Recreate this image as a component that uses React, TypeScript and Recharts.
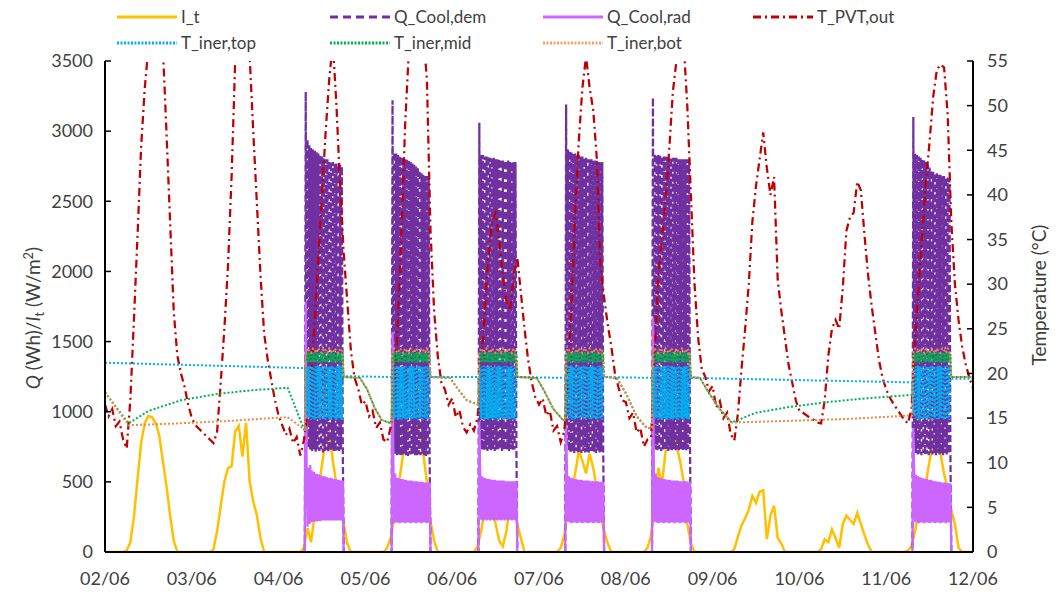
import { ComposedChart, Line, XAxis, YAxis } from "recharts"

const W = 1058
const H = 594
const PLOT_LEFT = 105
const PLOT_RIGHT = 973
const FONT = "Lato, 'Liberation Sans', sans-serif"
const TEXT = "#404040"

const DAY_LABELS = ["02/06", "03/06", "04/06", "05/06", "06/06", "07/06", "08/06", "09/06", "10/06", "11/06", "12/06"]
const DAY_TICKS = [0, 24, 48, 72, 96, 120, 144, 168, 192, 216, 240]
const Q_TICKS = [0, 500, 1000, 1500, 2000, 2500, 3000, 3500]
const T_TICKS = [0, 5, 10, 15, 20, 25, 30, 35, 40, 45, 50, 55]

// I_t, hourly, one array per day (W/m2)
const irr0206 = [0, 0, 0, 0, 0, 0, 10, 70, 250, 520, 780, 920, 970, 960, 920, 830, 650, 470, 260, 80, 0, 0, 0, 0]
const irr0306 = [0, 0, 0, 0, 0, 0, 20, 150, 330, 500, 600, 610, 860, 900, 680, 920, 500, 360, 260, 100, 0, 0, 0, 0]
const irr0406 = [0, 0, 0, 0, 0, 0, 0, 30, 170, 70, 280, 450, 620, 800, 850, 650, 480, 350, 200, 60, 0, 0, 0, 0]
const irr0506 = [0, 0, 0, 0, 0, 0, 30, 100, 250, 450, 620, 800, 900, 950, 920, 850, 700, 500, 220, 80, 0, 0, 0, 0]
const irr0606 = [0, 0, 0, 0, 0, 0, 0, 40, 150, 300, 400, 350, 200, 80, 40, 150, 350, 300, 200, 100, 0, 0, 0, 0]
const irr0706 = [0, 0, 0, 0, 0, 0, 30, 120, 300, 450, 560, 720, 650, 560, 700, 600, 450, 260, 150, 60, 0, 0, 0, 0]
const irr0806 = [0, 0, 0, 0, 0, 0, 30, 120, 350, 600, 480, 720, 800, 850, 760, 650, 500, 200, 60, 0, 0, 0, 0, 0]
const irr0906 = [0, 0, 0, 0, 0, 0, 20, 110, 190, 240, 300, 400, 350, 430, 440, 90, 260, 330, 100, 60, 0, 0, 0, 0]
const irr1006 = [0, 0, 0, 0, 0, 0, 20, 90, 70, 160, 100, 30, 200, 260, 230, 200, 280, 200, 120, 50, 0, 0, 0, 0]
const irr1106 = [0, 0, 0, 0, 0, 0, 10, 40, 150, 300, 420, 500, 650, 780, 800, 700, 560, 450, 300, 200, 30, 0, 0, 0]
const IRR_END = 0

// T_PVT,out, hourly, one array per day (°C)
const tpvt0206 = [16.5, 15.2, 16.0, 14.1, 14.6, 12.6, 11.6, 17, 26, 35.5, 45.5, 52, 56.5, 59, 60, 59, 56.5, 47, 37, 27, 22, 20, 18.5, 16.5]
const tpvt0306 = [15, 14.2, 13.8, 13.4, 13, 12.6, 12.2, 13.5, 19, 25, 32, 42, 55, 58.5, 60, 58.5, 55.5, 47, 39, 31, 24.5, 21.5, 19.2, 17]
const tpvt0406 = [15.3, 14.2, 13.1, 13.8, 12.2, 12.9, 10.8, 12.5, 15.5, 20, 26, 33, 40, 47, 53, 57, 50, 41, 33.5, 28, 22.5, 19.5, 18.3, 16.5]
const tpvt0506 = [16.9, 15.2, 15.8, 13.9, 14.5, 12.6, 12.3, 14, 18, 26, 36, 48, 56, 59, 61, 60, 58, 53, 36, 27, 22, 19, 18.2, 16.5]
const tpvt0606 = [17.2, 15.1, 15.9, 14, 13.4, 14.3, 13.6, 15, 20, 27, 33, 37, 38, 35, 31, 28, 27, 31, 33, 29, 25, 21.5, 19, 17.3]
const tpvt0706 = [16.5, 17.2, 15.3, 15.8, 13.6, 14.1, 12.3, 13.5, 19, 28, 38, 46, 52, 55.5, 52, 49.5, 44, 32, 28.5, 25.5, 23, 20, 18.4, 17]
const tpvt0806 = [16.8, 15, 15.6, 13.4, 13.9, 11.8, 12.6, 12.8, 22, 31, 35, 39.5, 45, 51.5, 55, 58, 57, 50, 40, 30, 24, 20.5, 19.6, 18]
const tpvt0906 = [18.6, 16.2, 16.9, 15, 15.6, 13.2, 12.5, 15.5, 20.5, 25, 30, 37, 41, 44, 47, 43, 40, 42, 30.5, 27, 24, 21, 19, 17]
const tpvt1006 = [15.8, 15.6, 15.3, 15, 14.8, 14.5, 14.4, 17, 22, 25, 26, 25, 29.6, 36, 37.5, 38, 41.5, 40.5, 35.5, 31, 27.5, 24.5, 21.5, 19.5]
const tpvt1106 = [18.2, 17.3, 16.6, 16, 15.4, 14.8, 14.4, 16, 24, 30, 36, 41.5, 46, 51, 54, 54.6, 54.3, 49, 37, 30, 26, 23, 21, 19.5]
const TPVT_END = 18.4

// cooling blocks: day index from 02/06, start at 07:30
const BLOCK_DAYS = [2, 3, 4, 5, 6, 9]
const BLOCK_START = 7.5
const FAST_STEP = 0.25
const SLOW_STEP = 0.5

// Q_Cool,dem in each block (15 min)
const dem0406 = [3280, 760, 2940, 740, 2900, 730, 2880, 720, 2870, 730, 2860, 715, 2850, 725, 2840, 720, 2830, 730, 2820, 710, 2810, 720, 2800, 725, 2800, 715, 2790, 720, 2780, 730, 2780, 720, 2770, 715, 2770, 725, 2760, 720, 2760, 730, 2750, 740]
const dem0506 = [3220, 740, 2850, 700, 2840, 690, 2830, 695, 2820, 685, 2820, 690, 2810, 700, 2800, 690, 2800, 685, 2790, 695, 2780, 690, 2770, 700, 2760, 690, 2750, 685, 2740, 695, 2720, 690, 2700, 700, 2690, 690, 2680, 685, 2680, 695, 2670, 700]
const dem0606 = [3060, 760, 2830, 730, 2830, 725, 2820, 730, 2820, 720, 2820, 735, 2810, 725, 2810, 730, 2810, 720, 2800, 730, 2800, 725, 2800, 735, 2800, 720, 2790, 730, 2790, 725, 2790, 730, 2790, 720, 2780, 735, 2780, 725, 2780, 730, 2780, 740]
const dem0706 = [3190, 750, 2870, 720, 2860, 710, 2850, 715, 2840, 705, 2840, 720, 2830, 710, 2830, 715, 2820, 705, 2820, 720, 2810, 710, 2810, 715, 2800, 705, 2800, 720, 2800, 710, 2790, 715, 2790, 705, 2790, 720, 2780, 710, 2780, 715, 2780, 730]
const dem0806 = [3240, 760, 2840, 730, 2830, 725, 2830, 735, 2830, 720, 2820, 730, 2820, 725, 2820, 735, 2820, 720, 2810, 730, 2810, 725, 2810, 735, 2810, 720, 2810, 730, 2800, 725, 2800, 735, 2800, 720, 2800, 730, 2800, 725, 2800, 735, 2800, 740]
const dem1106 = [3100, 740, 2840, 705, 2830, 695, 2820, 700, 2810, 690, 2800, 705, 2790, 695, 2780, 700, 2760, 690, 2740, 705, 2720, 695, 2710, 700, 2700, 690, 2700, 705, 2690, 695, 2690, 700, 2680, 690, 2680, 705, 2670, 695, 2670, 700, 2660, 710]

// Q_Cool,rad in each block (15 min)
const rad0406 = [1780, 640, 180, 600, 200, 620, 210, 580, 215, 570, 215, 560, 220, 555, 220, 550, 220, 545, 225, 540, 225, 540, 225, 535, 225, 530, 225, 530, 225, 525, 225, 520, 225, 520, 225, 515, 225, 515, 225, 510, 225, 510]
const rad0506 = [1570, 600, 205, 560, 210, 530, 210, 525, 205, 520, 210, 520, 210, 515, 205, 515, 210, 510, 210, 510, 205, 510, 210, 505, 210, 505, 205, 505, 210, 500, 210, 500, 205, 500, 210, 495, 210, 495, 205, 495, 210, 495]
const rad0606 = [930, 560, 230, 540, 225, 530, 230, 525, 225, 520, 230, 520, 225, 515, 230, 515, 225, 515, 230, 510, 225, 510, 230, 510, 225, 510, 230, 510, 225, 505, 230, 505, 225, 505, 230, 505, 225, 505, 230, 505, 225, 505]
const rad0706 = [905, 560, 215, 540, 210, 530, 205, 525, 210, 520, 210, 520, 205, 515, 210, 515, 210, 515, 205, 510, 210, 510, 210, 510, 205, 510, 210, 505, 210, 505, 205, 505, 210, 505, 210, 505, 205, 500, 210, 500, 210, 500]
const rad0806 = [1670, 600, 215, 560, 210, 535, 205, 530, 210, 525, 210, 520, 205, 520, 210, 515, 210, 515, 205, 515, 210, 510, 210, 510, 205, 510, 210, 510, 210, 505, 205, 505, 210, 505, 210, 505, 205, 505, 210, 500, 210, 500]
const rad1106 = [885, 570, 215, 550, 210, 540, 205, 535, 210, 530, 210, 525, 205, 520, 210, 520, 210, 515, 205, 515, 210, 510, 210, 505, 205, 505, 210, 500, 210, 500, 205, 495, 210, 495, 210, 495, 205, 490, 210, 490, 210, 490]

// T_iner inside blocks (same pattern every block)
const topBand = [15.4, 20.7, 14.9, 20.8, 15.0, 20.9, 14.8, 20.8, 14.9, 20.7, 14.8, 20.8, 15.0, 20.9, 14.9, 20.8, 14.8, 20.7, 15.0, 20.8, 14.9, 20.9, 14.8, 20.8, 15.0, 20.7, 14.9, 20.8, 14.8, 20.9, 15.0, 20.8, 14.9, 20.7, 14.8, 20.8, 15.0, 20.9, 14.9, 20.8, 14.8, 20.6]
const midBand = [21.4, 22.3, 21.2, 22.4, 21.3, 22.3, 21.2, 22.3, 21.3, 22.4, 21.2, 22.3, 21.3, 22.3, 21.2, 22.4, 21.3, 22.3, 21.2, 22.3, 21.3, 22.4, 21.2, 22.3, 21.3, 22.3, 21.2, 22.4, 21.3, 22.3, 21.2, 22.3, 21.3, 22.4, 21.2, 22.3, 21.3, 22.3, 21.2, 22.4, 21.3, 22.2]
const botBand = [22.4, 22.8, 22.5, 22.3, 22.8, 22.6, 22.3, 22.8, 22.5, 22.3, 22.8, 22.6, 22.3, 22.8, 22.5, 22.3, 22.8, 22.6, 22.3, 22.8, 22.5]

// T_iner outside blocks: [hour, °C] per gap
const topGaps = [
  [[0, 21.2], [55.25, 20.6]],
  [[66, 19.7], [79.25, 19.6]],
  [[90, 19.6], [103.25, 19.6]],
  [[114, 19.6], [127.25, 19.5]],
  [[138, 19.6], [151.25, 19.5]],
  [[162, 19.5], [223.25, 19.0]],
  [[234, 19.4], [240, 19.4]],
]
const midGaps = [
  [[0, 17.9], [6.5, 14.4], [12, 15.8], [21, 17.0], [31, 17.7], [40, 18.1], [50.5, 18.4], [55.25, 13.5]],
  [[66, 19.6], [70.5, 19.5], [72.5, 18.2], [74.5, 16.2], [76.5, 14.8], [79.25, 14.4]],
  [[90, 19.6], [95.4, 19.5], [97.5, 18.3], [100, 17.0], [103.25, 16.5]],
  [[114, 19.6], [119.4, 19.5], [121.5, 18.0], [124, 16.0], [126.6, 14.8], [127.25, 14.8]],
  [[138, 19.6], [141.5, 19.5], [144, 17.8], [147, 15.2], [149.8, 13.9], [151.25, 13.9]],
  [[162, 19.6], [164.5, 19.5], [167, 17.8], [170, 16], [173.3, 14.5], [180, 15.6], [190, 16.3], [200, 16.8], [210, 17.2], [223.25, 17.6]],
  [[234, 19.6], [240, 19.6]],
]
const botGaps = [
  [[0, 17.9], [6.5, 14.2], [20, 14.4], [35, 14.7], [50.5, 15.1], [55.25, 13.7]],
  [[66, 19.6], [70.5, 19.5], [72.5, 18.2], [74.5, 16.2], [76.5, 14.8], [79.25, 14.4]],
  [[90, 19.6], [95.4, 19.5], [97.5, 18.3], [100, 17.0], [103.25, 16.5]],
  [[114, 19.6], [119.4, 19.5], [121.5, 18.0], [124, 16.0], [126.6, 14.8], [127.25, 14.8]],
  [[138, 19.6], [141.5, 19.5], [144, 17.8], [147, 15.2], [149.8, 13.9], [151.25, 13.9]],
  [[162, 19.6], [164.5, 19.5], [167, 17.8], [170, 16], [173.3, 14.5], [190, 14.7], [205, 14.9], [223.25, 15.3]],
  [[234, 19.6], [240, 19.6]],
]

type Pt = { t: number; v: number }

function hourly(days: number[][], last: number): Pt[] {
  const out: Pt[] = []
  days.forEach((d, i) => d.forEach((v, h) => out.push({ t: i * 24 + h, v })))
  out.push({ t: days.length * 24, v: last })
  return out
}

// zero outside the cooling blocks
function blockSeries(blocks: number[][], step: number): Pt[] {
  const out: Pt[] = [{ t: 0, v: 0 }]
  blocks.forEach((vals, k) => {
    const s = BLOCK_DAYS[k] * 24 + BLOCK_START
    out.push({ t: s - step, v: 0 })
    vals.forEach((v, i) => out.push({ t: s + i * step, v }))
    out.push({ t: s + vals.length * step, v: 0 })
  })
  out.push({ t: 240, v: 0 })
  return out
}

function tinerSeries(gaps: number[][][], band: number[], step: number): Pt[] {
  const out: Pt[] = []
  gaps.forEach((gap, k) => {
    gap.forEach(([t, v]) => out.push({ t, v }))
    if (k < BLOCK_DAYS.length) {
      const s = BLOCK_DAYS[k] * 24 + BLOCK_START
      band.forEach((v, i) => out.push({ t: s + i * step, v }))
    }
  })
  return out
}

const LEGEND = [
  { name: "I_t", color: "#FFC000", dash: undefined, x: 117, row: 0 },
  { name: "Q_Cool,dem", color: "#7030A0", dash: "8 5", x: 330, row: 0 },
  { name: "Q_Cool,rad", color: "#CC66FF", dash: undefined, x: 543, row: 0 },
  { name: "T_PVT,out", color: "#C00000", dash: "8 4 2 4", x: 753, row: 0 },
  { name: "T_iner,top", color: "#00B0F0", dash: "2 1.5", x: 117, row: 1 },
  { name: "T_iner,mid", color: "#00B050", dash: "2 1.5", x: 330, row: 1 },
  { name: "T_iner,bot", color: "#F4A06A", dash: "2 1.5", x: 543, row: 1 },
]

function LeftTick(props: any) {
  const { y, payload } = props
  return (
    <g>
      <line x1={PLOT_LEFT} x2={PLOT_LEFT + 6} y1={y} y2={y} stroke="#000" strokeWidth={1.5} />
      <text x={PLOT_LEFT - 12} y={y} dy="0.35em" textAnchor="end" fontSize={18} fill={TEXT} fontFamily={FONT}>
        {payload.value}
      </text>
    </g>
  )
}

function RightTick(props: any) {
  const { y, payload } = props
  return (
    <g>
      <line x1={PLOT_RIGHT - 6} x2={PLOT_RIGHT} y1={y} y2={y} stroke="#000" strokeWidth={1.5} />
      <text x={PLOT_RIGHT + 14} y={y} dy="0.35em" textAnchor="start" fontSize={18} fill={TEXT} fontFamily={FONT}>
        {payload.value}
      </text>
    </g>
  )
}

function DayTick(props: any) {
  const { x, payload } = props
  const idx = DAY_TICKS.indexOf(payload.value)
  return (
    <text x={x} y={585} textAnchor="middle" fontSize={18} fill={TEXT} fontFamily={FONT}>
      {DAY_LABELS[idx]}
    </text>
  )
}

export default function App() {
  const irr = hourly([irr0206, irr0306, irr0406, irr0506, irr0606, irr0706, irr0806, irr0906, irr1006, irr1106], IRR_END)
  const tpvt = hourly([tpvt0206, tpvt0306, tpvt0406, tpvt0506, tpvt0606, tpvt0706, tpvt0806, tpvt0906, tpvt1006, tpvt1106], TPVT_END)
  const dem = blockSeries([dem0406, dem0506, dem0606, dem0706, dem0806, dem1106], FAST_STEP)
  const rad = blockSeries([rad0406, rad0506, rad0606, rad0706, rad0806, rad1106], FAST_STEP)
  const top = tinerSeries(topGaps, topBand, FAST_STEP)
  const mid = tinerSeries(midGaps, midBand, FAST_STEP)
  const bot = tinerSeries(botGaps, botBand, SLOW_STEP)

  const common = { xAxisId: "h", dataKey: "v", dot: false, activeDot: false, isAnimationActive: false, type: "linear" as const }

  return (
    <div style={{ position: "absolute", left: 0, top: 0, width: W, height: H, background: "#fff" }}>
      <ComposedChart width={W} height={H} margin={{ top: 61, right: 0, bottom: 0, left: 0 }}>
        <XAxis
          xAxisId="h"
          type="number"
          dataKey="t"
          domain={[0, 240]}
          ticks={DAY_TICKS}
          interval={0}
          allowDataOverflow
          height={42}
          axisLine={{ stroke: "#000", strokeWidth: 2 }}
          tickLine={false}
          tick={(p: any) => <DayTick {...p} />}
        />
        <YAxis
          yAxisId="q"
          orientation="left"
          width={105}
          domain={[0, 3500]}
          ticks={Q_TICKS}
          interval={0}
          allowDataOverflow
          axisLine={{ stroke: "#000", strokeWidth: 2 }}
          tickLine={false}
          tick={(p: any) => <LeftTick {...p} />}
        />
        <YAxis
          yAxisId="t"
          orientation="right"
          width={85}
          domain={[0, 55]}
          ticks={T_TICKS}
          interval={0}
          allowDataOverflow
          axisLine={{ stroke: "#000", strokeWidth: 2 }}
          tickLine={false}
          tick={(p: any) => <RightTick {...p} />}
        />
        <Line {...common} yAxisId="q" data={irr} stroke="#FFC000" strokeWidth={2.5} name="I_t" />
        <Line {...common} yAxisId="q" data={dem} stroke="#7030A0" strokeWidth={2.25} strokeDasharray="7 3" name="Q_Cool,dem" />
        <Line {...common} yAxisId="q" data={rad} stroke="#CC66FF" strokeWidth={2.25} name="Q_Cool,rad" />
        <Line {...common} yAxisId="t" data={tpvt} stroke="#C00000" strokeWidth={2.25} strokeDasharray="8 4 2 4" name="T_PVT,out" />
        <Line {...common} yAxisId="t" data={top} stroke="#00B0F0" strokeWidth={2} strokeDasharray="2 2" name="T_iner,top" />
        <Line {...common} yAxisId="t" data={mid} stroke="#00B050" strokeWidth={2} strokeDasharray="2 2" name="T_iner,mid" />
        <Line {...common} yAxisId="t" data={bot} stroke="#F0884A" strokeWidth={2} strokeDasharray="2 2" name="T_iner,bot" />
      </ComposedChart>
      <svg width={W} height={H} style={{ position: "absolute", left: 0, top: 0, pointerEvents: "none" }}>
        {LEGEND.map((it) => {
          const y = it.row === 0 ? 17 : 43
          return (
            <g key={it.name}>
              <line x1={it.x} x2={it.x + 60} y1={y} y2={y} stroke={it.color} strokeWidth={3} strokeDasharray={it.dash} />
              <text x={it.x + 64} y={y + 6} fontSize={17} fill={TEXT} fontFamily={FONT}>
                {it.name}
              </text>
            </g>
          )
        })}
        <text x={40} y={318} transform="rotate(-90, 40, 318)" textAnchor="middle" fontSize={19} fill={TEXT} fontFamily={FONT}>
          <tspan fontStyle="italic">Q</tspan>
          <tspan> (Wh)/</tspan>
          <tspan fontStyle="italic">I</tspan>
          <tspan dy={4} fontSize={13}>t</tspan>
          <tspan dy={-4}> (W/m</tspan>
          <tspan dy={-7} fontSize={13}>2</tspan>
          <tspan dy={7}>)</tspan>
        </text>
        <text x={1046} y={295} transform="rotate(-90, 1046, 295)" textAnchor="middle" fontSize={19} fill={TEXT} fontFamily={FONT}>
          Temperature (°C)
        </text>
      </svg>
    </div>
  )
}
